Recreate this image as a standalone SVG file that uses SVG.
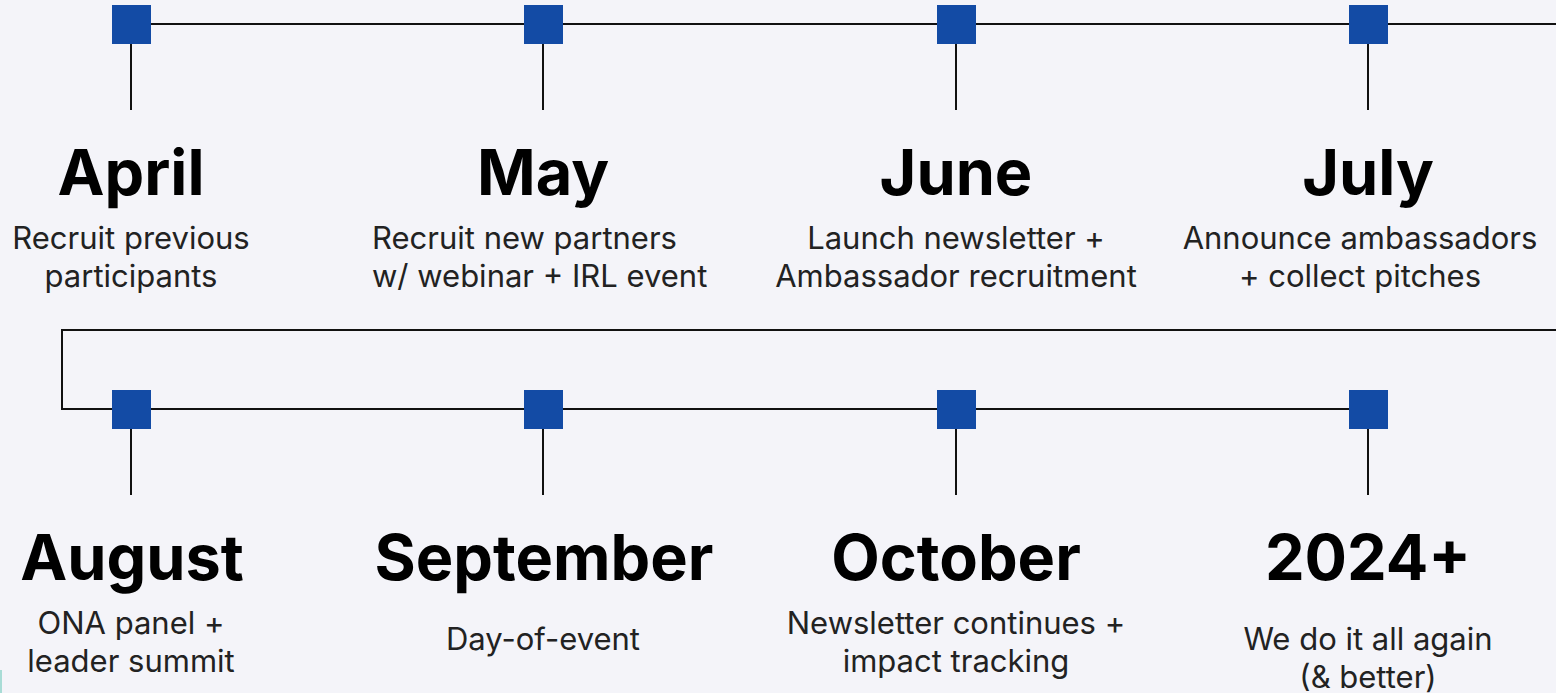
<svg xmlns="http://www.w3.org/2000/svg" width="1556" height="693" viewBox="0 0 1556 693">
<style>
.bg{fill:#f4f4f9}
.ln{fill:none;stroke:#111;stroke-width:2}
.sq{fill:#134ba5}
.t{font-family:Inter,"Liberation Sans",sans-serif;font-weight:700;font-size:63px;fill:#000;text-anchor:middle}
.s{font-family:Inter,"Liberation Sans",sans-serif;font-weight:400;font-size:31px;fill:#222;text-anchor:middle}
.sl{text-anchor:start}
</style>
<rect class="bg" x="0" y="0" width="1556" height="693"/>
<rect x="0" y="670" width="2" height="23" fill="#a8dcd6"/>
<g id="connectors">
<path class="ln" d="M131 24H1556"/>
<path class="ln" d="M1556 330H62V409H1368"/>
<path class="ln" d="M131 44V110M543 44V110M956 44V110M1368 44V110"/>
<path class="ln" d="M131 429V495M543 429V495M956 429V495M1368 429V495"/>
</g>
<g id="april"><rect class="sq" x="112" y="5" width="39" height="39"/><text class="t" x="131" y="195">April</text><text class="s" x="131" y="249">Recruit previous</text><text class="s" x="131" y="287">participants</text></g>
<g id="may"><rect class="sq" x="524" y="5" width="39" height="39"/><text class="t" x="543" y="195">May</text><text class="s sl" x="372" y="249">Recruit new partners</text><text class="s sl" x="372" y="287">w/ webinar + IRL event</text></g>
<g id="june"><rect class="sq" x="937" y="5" width="39" height="39"/><text class="t" x="956" y="195">June</text><text class="s" x="956" y="249">Launch newsletter +</text><text class="s" x="956" y="287">Ambassador recruitment</text></g>
<g id="july"><rect class="sq" x="1349" y="5" width="39" height="39"/><text class="t" x="1368" y="195">July</text><text class="s" x="1360" y="249">Announce ambassadors</text><text class="s" x="1360" y="287">+ collect pitches</text></g>
<g id="august"><rect class="sq" x="112" y="390" width="39" height="39"/><text class="t" x="132" y="580">August</text><text class="s" x="131" y="634">ONA panel +</text><text class="s" x="131" y="672">leader summit</text></g>
<g id="september"><rect class="sq" x="524" y="390" width="39" height="39"/><text class="t" x="544" y="580">September</text><text class="s" x="543" y="650">Day-of-event</text></g>
<g id="october"><rect class="sq" x="937" y="390" width="39" height="39"/><text class="t" x="956" y="580">October</text><text class="s" x="956" y="634">Newsletter continues +</text><text class="s" x="956" y="672">impact tracking</text></g>
<g id="y2024"><rect class="sq" x="1349" y="390" width="39" height="39"/><text class="t" x="1368" y="580">2024+</text><text class="s" x="1368" y="650">We do it all again</text><text class="s" x="1368" y="688">(&amp; better)</text></g>
</svg>
